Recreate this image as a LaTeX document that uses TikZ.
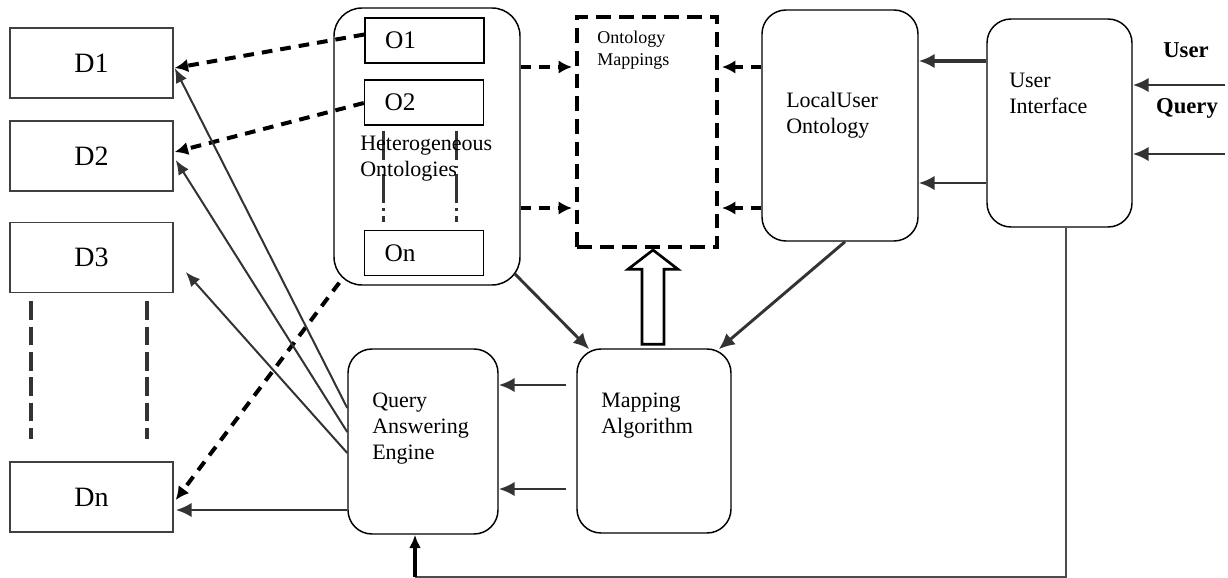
\documentclass[tikz,border=0pt]{standalone}
\usepackage{fontspec}
\setmainfont{Liberation Serif}
\usetikzlibrary{arrows.meta,calc}
\begin{document}
\begin{tikzpicture}[x=0.75pt,y=-0.75pt,
 dbox/.style={draw=black!75, line width=1.1pt, minimum width=122.25pt, minimum height=52.5pt, inner sep=0pt, font=\fontsize{21}{24}\selectfont},
 obox/.style={draw=black, line width=1.1pt, minimum width=89.25pt, minimum height=34pt, inner xsep=15pt, inner ysep=0pt, text width=59.25pt, align=left, font=\fontsize{19}{22}\selectfont},
 rbox/.style={draw=black, line width=1.1pt, rounded corners=18pt, inner sep=0pt},
 lbl/.style={anchor=north west, align=left, inner sep=0pt, font=\fontsize{16.5}{19.5}\selectfont},
 arr/.style={draw=black!80, line width=2.2pt, -{Latex[length=12pt,width=11pt]}},
 thinarr/.style={draw=black!80, line width=1.5pt, -{Latex[length=11pt,width=9pt]}},
 darr/.style={draw=black, line width=3pt, dash pattern=on 8pt off 6pt, -{Latex[length=10pt,width=10pt]}},
 dotline/.style={draw=black!80, line width=2.5pt, dash pattern=on 22pt off 4pt on 2pt off 4pt},
 dline/.style={draw=black!80, line width=3pt, dash pattern=on 14pt off 5pt},
 uq/.style={font=\bfseries\fontsize{17}{20}\selectfont, inner sep=0pt}
]
\useasboundingbox (0,0) rectangle (1228,578);

% data sources
\node[dbox] (d1) at (91.5,63) {D1};
\node[dbox] (d2) at (91.5,156) {D2};
\node[dbox] (d3) at (91.5,257.5) {D3};
\node[dbox] (dn) at (91.5,497) {Dn};
\draw[dline] ($(d3.south west)+(22,8)$) -- ($(dn.north west)+(22,-22)$);
\draw[dline] ($(d3.south west)+(138,8)$) -- ($(dn.north west)+(138,-22)$);

% heterogeneous ontologies
\node[rbox, rounded corners=21pt, minimum width=139.5pt, minimum height=207.75pt] (het) at (427,146.5) {};
\node[obox] (o1) at (424.5,40.5) {O1};
\node[obox] (o2) at (424,102.5) {O2};
\node[obox] (on) at (424,253) {On};
\draw[dotline] ($(o2.south west)+(20,5)$) -- ($(on.north west)+(20,-8)$);
\draw[dotline] ($(o2.south west)+(93,5)$) -- ($(on.north west)+(93,-8)$);
\node[lbl] (hett) at (360,136) {Heterogeneous\\Ontologies};

% ontology mappings
\node[draw=black, line width=3pt, dash pattern=on 11pt off 6pt, minimum width=105pt, minimum height=172.5pt, inner sep=0pt] (om) at (647,132) {};
\node[lbl, font=\fontsize{13.5}{16}\selectfont] (omt) at (597,31) {Ontology\\Mappings};

% local user ontology
\node[rbox, minimum width=117pt, minimum height=173.25pt] (luo) at (840,125.5) {};
\node[lbl] (luot) at (786,92) {LocalUser\\Ontology};

% user interface
\node[rbox, minimum width=108.75pt, minimum height=156pt] (ui) at (1059.5,123) {};
\node[lbl] (uit) at (1009,73) {User\\Interface};

% query answering engine
\node[rbox, minimum width=112.5pt, minimum height=138.75pt] (qae) at (423,441.5) {};
\node[lbl] (qaet) at (372,393) {Query\\Answering\\Engine};

% mapping algorithm
\node[rbox, minimum width=115.5pt, minimum height=138pt] (ma) at (654,441) {};
\node[lbl] (mat) at (601,393) {Mapping\\Algorithm};

% user query
\node[uq] (uq1) at (1186,50) {User};
\node[uq] (uq2) at (1187,108) {Query};
\coordinate (q1) at (1225,85);
\coordinate (q2) at (1225,154);
\draw[arr] (q1) -- (ui.east |- q1);
\draw[arr] (q2) -- (ui.east |- q2);

% UI -> LUO
\draw[arr, line width=2.8pt] ($(ui.west)+(0,-62)$) -- ($(luo.east)+(0,-64.5)$);
\draw[arr] ($(ui.west)+(0,60)$) -- ($(luo.east)+(0,57.5)$);

% het -> OM, LUO -> OM
\draw[darr] ($(het.east)+(0,-79.5)$) -- ($(om.west)+(-3,-65)$);
\draw[darr] ($(het.east)+(0,61.5)$) -- ($(om.west)+(-3,76)$);
\draw[darr] ($(luo.west)+(0,-58.5)$) -- ($(om.east)+(3,-65)$);
\draw[darr] ($(luo.west)+(0,82.5)$) -- ($(om.east)+(3,76)$);

% O -> D
\draw[darr] ($(o1.west)+(0,-6)$) -- ($(d1.east)+(1,5)$);
\draw[darr] ($(o2.west)+(0,0.5)$) -- ($(d2.east)+(1,-4)$);
\draw[darr] ($(het.south west)+(6,-3)$) -- ($(dn.east)+(2,3)$);

% QAE -> D
\draw[thinarr] ($(qae.west)+(0,-33.5)$) -- ($(d1.east)+(1,5)$);
\draw[thinarr] ($(qae.west)+(0,-9.5)$) -- ($(d2.east)+(2,4)$);
\draw[thinarr] ($(qae.west)+(0,11.5)$) -- ($(d3.east)+(12,14.5)$);
\draw[arr] ($(qae.west)+(0,68.5)$) -- ($(dn.east)+(2,13)$);

% het, LUO -> MA
\draw[arr] ($(het.south east)+(-6,-12)$) -- ($(ma.north west)+(13,1)$);
\draw[arr] ($(luo.south)+(5,0)$) -- ($(ma.north east)+(-13,1)$);

% MA -> QAE
\draw[arr] ($(ma.west)+(-10,-56)$) -- ($(qae.east)+(0,-56.5)$);
\draw[arr] ($(ma.west)+(-10,48)$) -- ($(qae.east)+(0,47.5)$);

% hollow arrow MA -> OM
\coordinate (hb) at ($(ma.north)+(-1,-4)$);
\coordinate (ht) at ($(om.south)+(6,1)$);
\draw[line width=2pt, fill=white] ($(hb)+(-11,0)$) -- ($(hb)+(-11,-75)$) -- ($(hb)+(-25,-75)$) -- (ht) -- ($(hb)+(25,-75)$) -- ($(hb)+(11,-75)$) -- ($(hb)+(11,0)$) -- cycle;

% UI -> QAE feedback
\coordinate (c1) at ($(ui.south)+(6.5,349)$);
\coordinate (c2) at ($(qae.south)+(-8,42)$);
\draw[black!70, line width=1.2pt] ($(ui.south)+(6.5,0)$) -- (c1) -- (c2);
\draw[line width=3pt, -{Latex[length=10pt,width=9pt]}] (c2) -- ($(qae.south)+(-8,0)$);
\end{tikzpicture}
\end{document}
